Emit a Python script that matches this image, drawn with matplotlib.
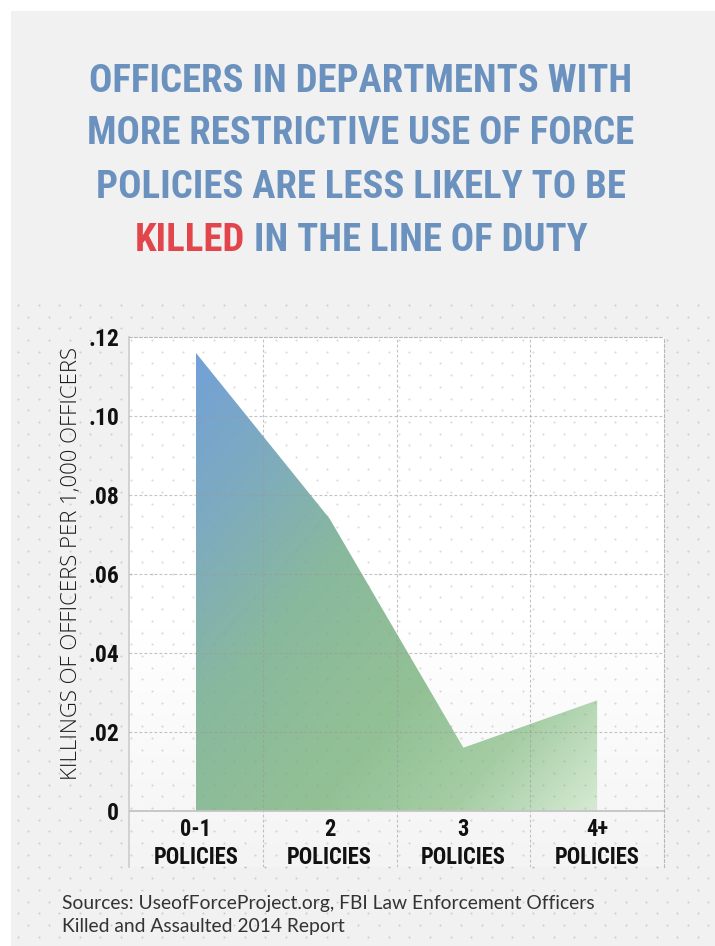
import numpy as np
import matplotlib
matplotlib.use('Agg')
import matplotlib.pyplot as plt
from matplotlib.colors import LinearSegmentedColormap, to_rgb
from matplotlib.patches import Rectangle

# Data
categories = ['0-1\nPOLICIES', '2\nPOLICIES', '3\nPOLICIES', '4+\nPOLICIES']
killings = [0.116, 0.074, 0.016, 0.028]
ytick_vals = [0, 0.02, 0.04, 0.06, 0.08, 0.10, 0.12]
ytick_labels = ['0', '.02', '.04', '.06', '.08', '.10', '.12']
title_lines = ['OFFICERS IN DEPARTMENTS WITH',
               'MORE RESTRICTIVE USE OF FORCE',
               'POLICIES ARE LESS LIKELY TO BE']
title_red = 'KILLED'
title_rest = ' IN THE LINE OF DUTY'
ylabel = 'KILLINGS OF OFFICERS PER 1,000 OFFICERS'
source = ('Sources: UseofForceProject.org, FBI Law Enforcement Officers\n'
          'Killed and Assaulted 2014 Report')

COND = ['Roboto Condensed', 'Liberation Sans Narrow', 'Open Sans Condensed',
        'DejaVu Sans Condensed', 'Roboto', 'DejaVu Sans']
BLUE = '#6b92bf'
RED = '#e3454c'

W, H = 715, 946
fig = plt.figure(figsize=(W / 100, H / 100), dpi=100, facecolor='white')
r = fig.canvas.get_renderer()


def fit(t, target):
    # scale font so the text's width matches the reference
    w = t.get_window_extent(r).width
    t.set_fontsize(t.get_fontsize() * target / w)


# background panel in pixel coordinates
bg = fig.add_axes([0, 0, 1, 1])
bg.set_xlim(0, W)
bg.set_ylim(H, 0)
bg.axis('off')
bg.add_patch(Rectangle((11, 11), W, H, facecolor='#f1f1f1', edgecolor='none'))

# dotted pattern
dx, dy = 20.6, 11.7
pts = []
for i, yy in enumerate(np.arange(305, H, dy)):
    off = 0 if i % 2 == 0 else dx / 2
    for xx in np.arange(18 + off, W, dx):
        pts.append((xx, yy))
pts = np.array(pts)
bg.scatter(pts[:, 0], pts[:, 1], s=2.4, color='#d0d0d0', linewidths=0)

# title
cx = 361
line_y = [81, 134, 187]
t0 = bg.text(cx, line_y[0], title_lines[0], ha='center', va='center', color=BLUE,
             fontsize=30, fontweight='bold', family=COND, fontstretch='condensed')
fit(t0, 542)
tsize = t0.get_fontsize()
for txt, yy in zip(title_lines[1:], line_y[1:]):
    bg.text(cx, yy, txt, ha='center', va='center', color=BLUE, fontsize=tsize,
            fontweight='bold', family=COND, fontstretch='condensed')
t_red = bg.text(0, 240, title_red, ha='left', va='center', color=RED,
                fontsize=tsize, fontweight='bold', family=COND, fontstretch='condensed')
t_rest = bg.text(0, 240, title_rest, ha='left', va='center', color=BLUE,
                 fontsize=tsize, fontweight='bold', family=COND, fontstretch='condensed')
w1 = t_red.get_window_extent(r).width
w2 = t_rest.get_window_extent(r).width
x0 = cx - (w1 + w2) / 2
t_red.set_x(x0)
t_rest.set_x(x0 + w1)

# plot axes
ax = fig.add_axes([129 / W, 1 - 867 / H, 535 / W, 530 / H])
ymin, ymax = -0.0142, 0.12
ax.set_xlim(0, 4)
ax.set_ylim(ymin, ymax)

# panel gradient (white to light grey near the bottom)
g = np.linspace(0, 1, 200)
g = np.clip(g / 0.45, 0, 1)[:, None, None]
pc = np.array(to_rgb('#ffffff')) * g + np.array(to_rgb('#f4f4f4')) * (1 - g)
ax.imshow(np.repeat(pc, 2, axis=1), extent=[0, 4, ymin, ymax], origin='lower',
          aspect='auto', zorder=0)

# area with diagonal gradient
x = np.arange(len(categories)) + 0.5
coll = ax.fill_between(x, killings, 0, color='none', linewidth=0)
gx, gy = np.meshgrid(np.linspace(0, 1, 300), np.linspace(0, 1, 300))
s = np.clip(0.5 * (gy + 1 - gx), 0, 1)
cmap = LinearSegmentedColormap.from_list('area', [
    (0.0, '#d6ead3'), (0.18, '#a5cda4'), (0.35, '#93c195'),
    (0.6, '#89b99d'), (0.8, '#7eabbf'), (1.0, '#72a1d8')])
im = ax.imshow(cmap(s), extent=[x[0], x[-1], 0, max(killings)], origin='lower',
               aspect='auto', zorder=1)
im.set_clip_path(coll.get_paths()[0], transform=ax.transData)

# dots inside panel
ax.scatter(pts[:, 0], pts[:, 1], s=2.4, color='#9a9a9a', alpha=0.35,
           linewidths=0, transform=bg.transData, zorder=2)

# grid
dash = (0, (2.5, 2))
for v in ytick_vals[1:-1]:
    ax.axhline(v, color='#9a9a9a', alpha=0.6, lw=0.8, linestyle=dash, zorder=3)
for v in range(1, len(categories)):
    ax.axvline(v, color='#9a9a9a', alpha=0.6, lw=0.8, linestyle=dash, zorder=3)
ax.axhline(0, color='#c4c4c4', lw=1.3, zorder=4)

for side in ['top', 'right']:
    ax.spines[side].set_linestyle(dash)
    ax.spines[side].set_color('#b8b8b8')
    ax.spines[side].set_linewidth(0.8)
ax.spines['bottom'].set_visible(False)
ax.spines['left'].set_color('#cfcfcf')
ax.spines['left'].set_linewidth(1.3)

ax.set_yticks(ytick_vals)
ax.set_yticklabels(ytick_labels, fontsize=17, fontweight='bold', family=COND,
                   fontstretch='condensed', color='#111111')
ax.tick_params(axis='y', length=0, pad=7)
ax.set_xticks([])

for xi, lab in zip(x, categories):
    tx = ax.text(xi, -0.0017, lab, ha='center', va='top', fontsize=15,
                 fontweight='bold', family=COND, fontstretch='condensed',
                 color='#111111', linespacing=1.3)
fit(tx, 86)
for t in ax.texts:
    t.set_fontsize(tx.get_fontsize())

yl = bg.text(72, 563, ylabel, rotation=90, ha='center', va='center', fontsize=12,
             family=['Open Sans', 'DejaVu Sans'], fontweight='light',
             color='#1a1a1a')
h = yl.get_window_extent(r).height
yl.set_fontsize(12 * 430 / h)

src = bg.text(62, 915, source, ha='left', va='center', fontsize=12.5,
              family=['Lato', 'DejaVu Sans'], color='#333333', linespacing=1.4)
fit(src, 534)

fig.savefig('out.png', dpi=100, facecolor='white')
